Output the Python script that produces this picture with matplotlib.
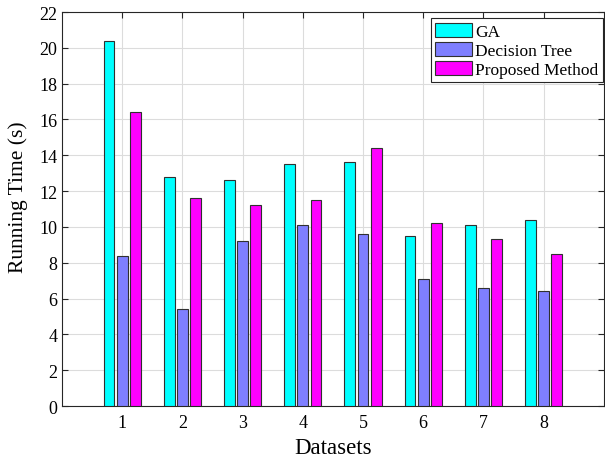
import numpy as np
import matplotlib
matplotlib.use("Agg")
import matplotlib.pyplot as plt

datasets = [1, 2, 3, 4, 5, 6, 7, 8]
ga = [20.4, 12.8, 12.6, 13.5, 13.6, 9.5, 10.1, 10.4]
decision_tree = [8.4, 5.4, 9.2, 10.1, 9.6, 7.1, 6.6, 6.4]
proposed = [16.4, 11.6, 11.2, 11.5, 14.4, 10.2, 9.3, 8.5]
series_names = ["GA", "Decision Tree", "Proposed Method"]
colors = ["#00FFFF", "#7F7FFF", "#FF00FF"]

plt.rcParams["font.family"] = ["Liberation Serif", "DejaVu Serif"]

fig = plt.figure(figsize=(6.05, 4.6), dpi=100)
ax = fig.add_axes([0.1025, 0.1152, 0.8955, 0.8565])

x = np.array(datasets, dtype=float)
width = 0.18
step = 0.22
for i, (vals, name, c) in enumerate(zip([ga, decision_tree, proposed], series_names, colors)):
    ax.bar(x + (i - 1) * step, vals, width, color=c, edgecolor="#303030",
           linewidth=0.8, label=name, zorder=3)

ax.set_xlim(0, 9)
ax.set_ylim(0, 22)
ax.set_xticks(datasets)
ax.set_yticks(np.arange(0, 23, 2))
ax.tick_params(direction="in", top=True, right=True, labelsize=13, length=4,
               color="#262626", width=0.8)
ax.tick_params(axis="x", pad=6)
for s in ax.spines.values():
    s.set_color("#262626")
    s.set_linewidth(0.8)
ax.grid(True, color="#dcdcdc", linewidth=0.8, zorder=0)
ax.set_axisbelow(True)

ax.set_xlabel("Datasets", fontsize=16.5, labelpad=4)
ax.set_ylabel("Running Time (s)", fontsize=15.5)
ax.yaxis.set_label_coords(-0.062, 0.532)

leg = ax.legend(loc="upper right", bbox_to_anchor=(0.998, 0.984),
                borderaxespad=0, fontsize=12.5, fancybox=False, framealpha=1,
                edgecolor="#262626", borderpad=0.25, labelspacing=0.12,
                handlelength=2.1, handleheight=0.85, handletextpad=0.2)
leg.get_frame().set_linewidth(0.8)

fig.savefig("out.png", dpi=100)
